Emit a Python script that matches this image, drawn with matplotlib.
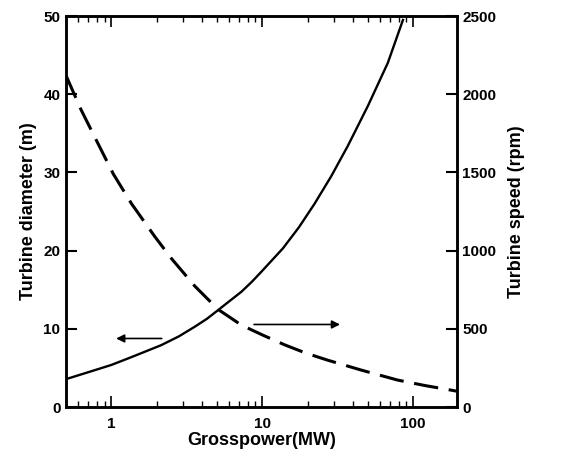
import matplotlib.pyplot as plt
from matplotlib.ticker import LogLocator, NullFormatter, FixedLocator

plt.rcParams['font.family'] = ['Liberation Sans', 'DejaVu Sans']

# turbine diameter vs gross power (left axis)
power_d = [0.5, 0.517, 0.776, 1.0, 1.29, 1.6, 2.14, 2.8, 3.56, 4.3, 5.09, 6.1, 7.26,
           8.5, 9.85, 13.7, 17.5, 22.2, 28.6, 36.9, 50.1, 67.9, 85.6]
diameter = [3.6, 3.67, 4.73, 5.4, 6.23, 6.95, 7.93, 9.05, 10.27, 11.3, 12.4, 13.6, 14.74,
            16.0, 17.3, 20.3, 23.0, 26.0, 29.5, 33.4, 38.5, 44.0, 49.5]

# turbine speed vs gross power (right axis)
power_s = [0.5, 0.63, 0.80, 1.03, 1.36, 1.94, 2.50, 3.56, 5.09, 7.26, 8.45, 10,
           14.1, 19.5, 27.2, 45.3, 79, 120, 178, 195]
speed = [2120, 1900, 1700, 1490, 1300, 1090, 950, 775, 625, 525, 495, 462,
         398, 345, 300, 237, 173, 138, 109, 102]

x_ticks = [1, 10, 100]
x_labels = ['1', '10', '100']
left_ticks = [0, 10, 20, 30, 40, 50]
right_ticks = [0, 500, 1000, 1500, 2000, 2500]

fig = plt.figure(figsize=(5.69, 4.58), dpi=100)
ax = fig.add_axes([0.116, 0.111, 0.687, 0.854])
ax2 = ax.twinx()

ax.plot(power_d, diameter, color='black', lw=1.7)
ax2.plot(power_s, speed, color='black', lw=2.2, dashes=(8, 3.5))

ax.set_xscale('log')
ax.set_xlim(0.5, 195)
ax.set_ylim(0, 50)
ax2.set_ylim(0, 2500)

ax.xaxis.set_major_locator(FixedLocator(x_ticks))
ax.set_xticklabels(x_labels)
ax.xaxis.set_minor_locator(LogLocator(base=10, subs=range(2, 10)))
ax.xaxis.set_minor_formatter(NullFormatter())
ax.set_yticks(left_ticks)
ax2.set_yticks(right_ticks)

for a in (ax, ax2):
    for s in a.spines.values():
        s.set_linewidth(1.8)
ax.tick_params(axis='x', which='major', direction='in', top=True, length=8, width=1.2,
               labelsize=11, pad=7)
ax.tick_params(axis='x', which='minor', direction='in', top=True, length=4, width=1.0)
ax.tick_params(axis='y', direction='in', length=8, width=1.5, labelsize=11, pad=4)
ax2.tick_params(axis='y', direction='in', length=8, width=1.5, labelsize=11, pad=4)
for lab in ax.get_xticklabels() + ax.get_yticklabels() + ax2.get_yticklabels():
    lab.set_fontweight('bold')

ax.set_xlabel('Grosspower(MW)', fontsize=13, fontweight='bold', labelpad=1)
ax.set_ylabel('Turbine diameter (m)', fontsize=13, fontweight='bold', labelpad=5)
ax2.set_ylabel('Turbine speed (rpm)', fontsize=13, fontweight='bold', labelpad=8)

ax.annotate('', xy=(1.03, 8.78), xytext=(2.25, 8.78),
            arrowprops=dict(arrowstyle='-|>', color='black', lw=1.2, mutation_scale=12))
ax.annotate('', xy=(34.2, 10.57), xytext=(8.45, 10.57),
            arrowprops=dict(arrowstyle='-|>', color='black', lw=1.2, mutation_scale=12))

plt.savefig('out.png', dpi=100)
